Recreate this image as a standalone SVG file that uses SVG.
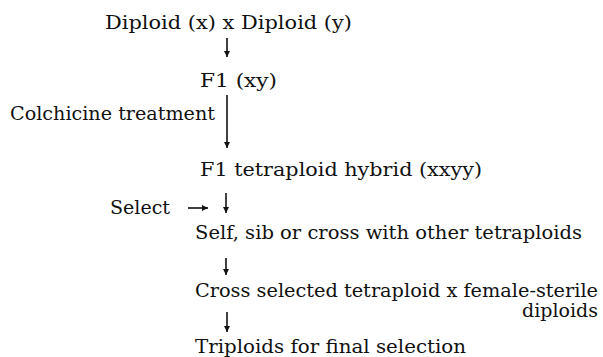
<svg xmlns="http://www.w3.org/2000/svg" width="603" height="357" viewBox="0 0 603 357">
<style>
text{font-family:"DejaVu Serif","Liberation Serif",serif;font-size:19px;fill:#111}
.c line{stroke:#111;stroke-width:1.6}
</style>
<defs>
<marker id="ah" viewBox="0 0 10 10" refX="10" refY="5" markerWidth="6" markerHeight="6" markerUnits="userSpaceOnUse" orient="auto"><path d="M0,0 L10,5 L0,10 Z" fill="#111"/></marker>
</defs>
<rect width="603" height="357" fill="#fff"/>
<g id="n1"><text x="105" y="29" textLength="247" lengthAdjust="spacingAndGlyphs">Diploid (x) x Diploid (y)</text></g>
<g id="n2"><text x="200" y="87" textLength="77" lengthAdjust="spacingAndGlyphs">F1 (xy)</text></g>
<g id="n3"><text x="10" y="120" textLength="205" lengthAdjust="spacingAndGlyphs">Colchicine treatment</text></g>
<g id="n4"><text x="200" y="176" textLength="282" lengthAdjust="spacingAndGlyphs">F1 tetraploid hybrid (xxyy)</text></g>
<g id="n5"><text x="110" y="214" textLength="60" lengthAdjust="spacingAndGlyphs">Select</text></g>
<g id="n6"><text x="195" y="239" textLength="387" lengthAdjust="spacingAndGlyphs">Self, sib or cross with other tetraploids</text></g>
<g id="n7"><text x="195" y="297" textLength="403" lengthAdjust="spacingAndGlyphs">Cross selected tetraploid x female-sterile</text><text x="522" y="317" textLength="76" lengthAdjust="spacingAndGlyphs">diploids</text></g>
<g id="n8"><text x="195" y="353" textLength="271" lengthAdjust="spacingAndGlyphs">Triploids for final selection</text></g>
<g id="connectors" class="c">
<line x1="227" y1="38" x2="227" y2="57" marker-end="url(#ah)"/>
<line x1="227" y1="95" x2="227" y2="148" marker-end="url(#ah)"/>
<line x1="188" y1="208" x2="208" y2="208" marker-end="url(#ah)"/>
<line x1="226" y1="193" x2="226" y2="213" marker-end="url(#ah)"/>
<line x1="226" y1="258" x2="226" y2="275" marker-end="url(#ah)"/>
<line x1="227" y1="312" x2="227" y2="332" marker-end="url(#ah)"/>
</g>
</svg>
